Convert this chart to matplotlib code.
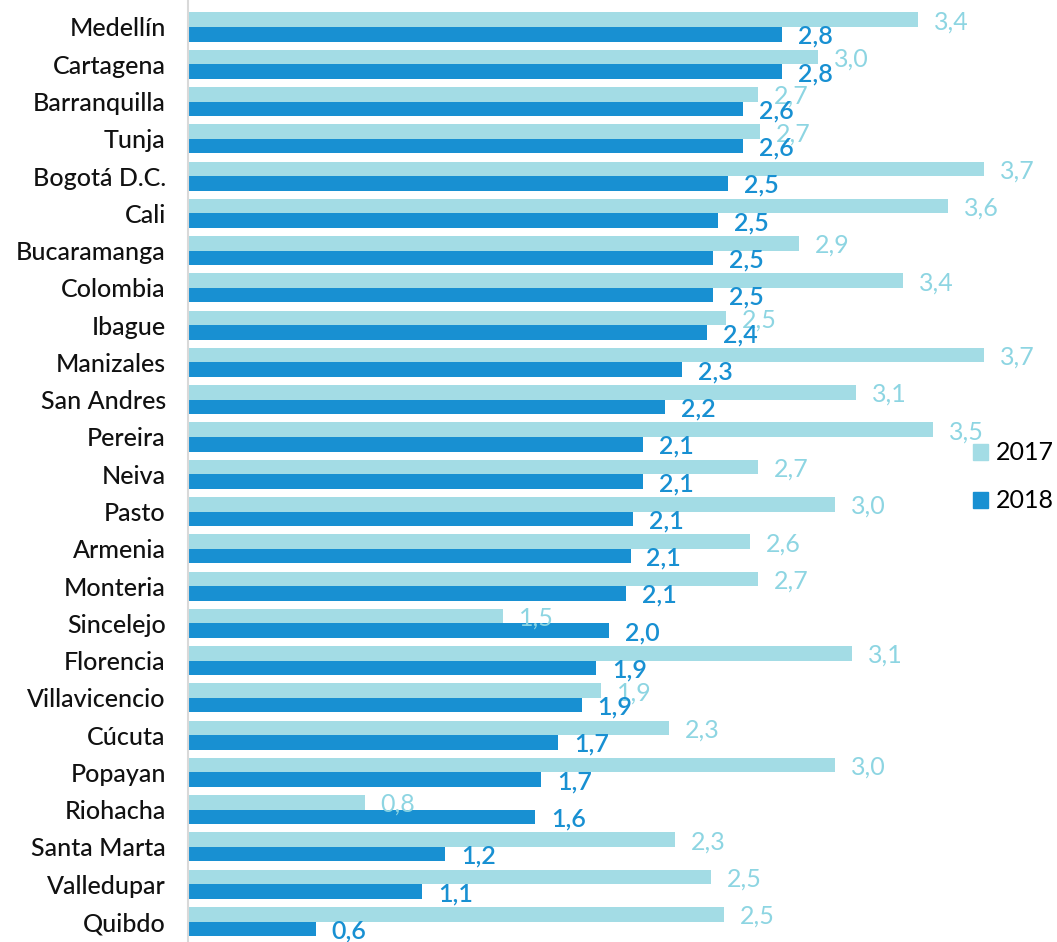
import numpy as np
import matplotlib
matplotlib.use("Agg")
import matplotlib.pyplot as plt
from matplotlib.patches import Patch

# cities, top to bottom
cities = ["Medellín", "Cartagena", "Barranquilla", "Tunja", "Bogotá D.C.", "Cali",
          "Bucaramanga", "Colombia", "Ibague", "Manizales", "San Andres", "Pereira",
          "Neiva", "Pasto", "Armenia", "Monteria", "Sincelejo", "Florencia",
          "Villavicencio", "Cúcuta", "Popayan", "Riohacha", "Santa Marta",
          "Valledupar", "Quibdo"]

# values
v2017 = [3.43, 2.96, 2.68, 2.69, 3.74, 3.57, 2.87, 3.36, 2.53, 3.74, 3.14, 3.50,
         2.68, 3.04, 2.64, 2.68, 1.48, 3.12, 1.94, 2.26, 3.04, 0.83, 2.29, 2.46, 2.52]
v2018 = [2.79, 2.79, 2.61, 2.61, 2.54, 2.49, 2.47, 2.47, 2.44, 2.32, 2.24, 2.14,
         2.14, 2.09, 2.08, 2.06, 1.98, 1.92, 1.85, 1.74, 1.66, 1.63, 1.21, 1.10, 0.60]

c17 = "#a3dce5"
c17_txt = "#8dd5e2"
c18 = "#1890d2"

plt.rcParams['font.family'] = ['Lato', 'DejaVu Sans']

W, H = 1057, 942
fig = plt.figure(figsize=(W / 100, H / 100), dpi=100)
ax = fig.add_axes([188 / W, 0, 851 / W, 1])

y = np.arange(len(cities))
h = 0.39
ax.barh(y - h / 2, v2017, height=h, color=c17, label="2017")
ax.barh(y + h / 2, v2018, height=h, color=c18, label="2018")

def fmt(v):
    return f"{v:.1f}".replace(".", ",")

for yi, a, b in zip(y, v2017, v2018):
    ax.annotate(fmt(a), (a, yi - h / 2), xytext=(11.5, -1.5), textcoords="offset points",
                color=c17_txt, fontsize=18, va="center", ha="left")
    ax.annotate(fmt(b), (b, yi + h / 2), xytext=(11.5, -1.5), textcoords="offset points",
                color=c18, fontsize=18, va="center", ha="left", fontweight="semibold")

ax.set_xlim(0, 4.0)
ax.set_ylim(24.55, -0.724)
ax.set_yticks(y)
ax.set_yticklabels(cities, fontsize=18, color="#111111", fontweight="medium")
ax.tick_params(axis="y", length=0, pad=16)
ax.set_xticks([])
for s in ["top", "right", "bottom"]:
    ax.spines[s].set_visible(False)
ax.spines["left"].set_color("#d9d9d9")
ax.spines["left"].set_linewidth(1.5)

handles = [Patch(color=c17, label="2017"), Patch(color=c18, label="2018")]
fig.legend(handles=handles, loc="center left", bbox_to_anchor=(973 / W, 1 - 477 / H),
           frameon=False, fontsize=18, handlelength=0.6, handleheight=0.6,
           handletextpad=0.3, labelspacing=1.0, borderpad=0, borderaxespad=0)

fig.savefig("out.png", dpi=100)
